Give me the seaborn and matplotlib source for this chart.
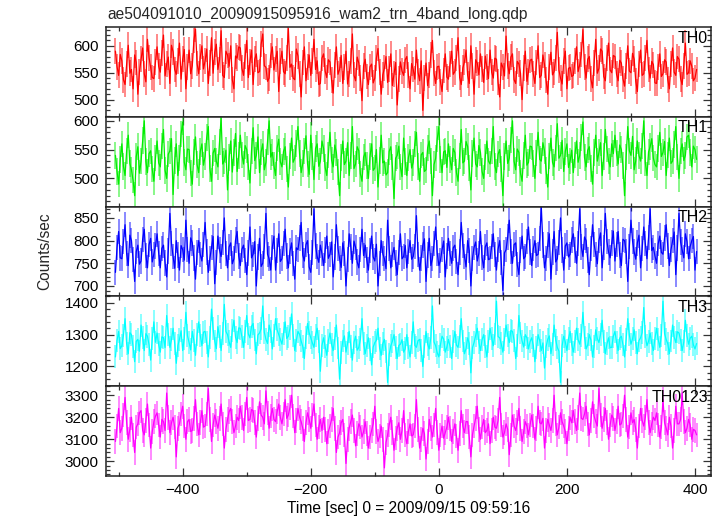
import numpy as np
import pandas as pd
import matplotlib
matplotlib.use("Agg")
import matplotlib.pyplot as plt
from matplotlib.ticker import MultipleLocator
import seaborn as sns

title = "ae504091010_20090915095916_wam2_trn_4band_long.qdp"
bands = ["TH0", "TH1", "TH2", "TH3", "TH0123"]
colors = ["#ff0000", "#00ee00", "#0000ff", "#00ffff", "#ff00ff"]

# light curve, 2.5 s bins starting at -505 s
t_start = -505
t_bin = 2.5

th0 = [590, 561, 545, 584, 572, 537, 528, 566, 601, 549, 556, 520, 583, 569, 510, 552, 575, 596, 548, 533, 612, 578, 560, 541, 539, 570,
       598, 562, 551, 587, 620, 544, 566, 579, 530, 601, 589, 556, 547, 571, 605, 538, 575, 593, 520, 560, 592, 548, 563, 610, 631, 567,
       548, 579, 600, 557, 572, 594, 530, 568, 615, 549, 588, 603, 556, 574, 628, 545, 541, 590, 583, 562, 600, 537, 520, 581, 577, 598,
       596, 558, 545, 580, 610, 541, 570, 592, 528, 575, 585, 550, 552, 603, 622, 563, 560, 534, 540, 582, 598, 555, 575, 590, 515, 571,
       590, 552, 548, 578, 632, 560, 566, 540, 537, 594, 581, 547, 505, 569, 598, 535, 560, 583, 545, 571, 612, 556, 572, 528, 530, 577,
       585, 553, 541, 574, 570, 536, 512, 565, 598, 547, 556, 582, 530, 560, 590, 529, 548, 571, 622, 545, 535, 579, 568, 540, 498, 563,
       575, 543, 528, 561, 566, 531, 540, 577, 595, 552, 510, 546, 558, 580, 532, 557, 585, 526, 548, 569, 490, 538, 570, 553, 545, 574,
       580, 545, 520, 567, 556, 538, 592, 551, 535, 572, 480, 540, 568, 526, 545, 583, 610, 549, 530, 561, 562, 533, 515, 554, 585, 542,
       538, 566, 590, 547, 552, 578, 615, 541, 528, 559, 570, 592, 545, 530, 600, 562, 510, 574, 568, 546, 585, 557, 532, 581, 560, 539,
       592, 551, 540, 577, 575, 532, 505, 568, 560, 544, 618, 563, 548, 579, 585, 537, 530, 571, 566, 549, 500, 558, 590, 534, 552, 573,
       575, 548, 530, 569, 600, 541, 545, 583, 565, 536, 510, 561, 588, 546, 552, 577, 625, 555, 540, 529, 572, 590, 520, 558, 560, 543,
       545, 571, 598, 552, 565, 584, 630, 560, 540, 575, 580, 538, 522, 568, 612, 549, 558, 594, 590, 543, 535, 577, 605, 555, 550, 582,
       580, 547, 535, 573, 568, 539, 525, 562, 600, 553, 550, 586, 575, 534, 515, 566, 592, 545, 548, 578, 610, 556, 540, 571, 565, 531,
       530, 561, 585, 543, 548, 574, 570, 537, 520, 566, 596, 551, 545, 580, 575, 539, 528, 563, 605, 547, 550, 572, 562, 535, 540, 556]

th1 = [540, 512, 490, 533, 560, 521, 505, 548, 575, 526, 515, 497, 470, 538, 555, 509, 530, 566, 600, 529, 510, 543, 548, 516, 495, 535,
       565, 527, 520, 556, 585, 514, 500, 542, 548, 569, 472, 531, 560, 505, 535, 577, 598, 528, 515, 551, 550, 509, 490, 546, 572, 524,
       510, 547, 560, 523, 538, 571, 590, 517, 495, 544, 552, 530, 520, 563, 605, 525, 530, 549, 480, 536, 565, 511, 545, 578, 512, 540,
       575, 541, 525, 557, 550, 520, 492, 548, 588, 531, 540, 572, 510, 546, 560, 515, 528, 563, 600, 537, 545, 522, 505, 553, 568, 529,
       520, 547, 555, 516, 485, 539, 570, 528, 535, 561, 590, 543, 510, 526, 548, 574, 525, 507, 575, 538, 498, 552, 560, 521, 530, 565,
       552, 519, 505, 541, 580, 532, 520, 558, 545, 511, 470, 536, 565, 524, 530, 562, 505, 540, 590, 517, 525, 555, 548, 508, 495, 537,
       545, 522, 500, 538, 560, 514, 518, 550, 485, 531, 575, 527, 530, 506, 510, 547, 555, 520, 465, 535, 540, 556, 520, 503, 570, 529,
       505, 536, 550, 518, 528, 560, 580, 521, 495, 541, 545, 512, 515, 553, 565, 530, 470, 524, 535, 568, 590, 533, 510, 546, 548, 519,
       560, 533, 515, 552, 545, 510, 495, 539, 585, 527, 530, 564, 555, 518, 480, 543, 570, 525, 520, 557, 545, 512, 500, 537, 565, 530,
       525, 548, 590, 521, 510, 542, 550, 516, 470, 538, 565, 526, 535, 567, 600, 530, 515, 551, 545, 509, 495, 540, 575, 523, 528, 556,
       555, 526, 500, 544, 580, 533, 530, 562, 548, 514, 485, 539, 570, 528, 520, 553, 595, 535, 540, 566, 512, 547, 560, 519, 530, 549,
       510, 541, 565, 528, 540, 571, 598, 536, 520, 549, 555, 517, 490, 545, 575, 530, 545, 562, 505, 538, 585, 551, 530, 520, 560, 543,
       575, 544, 525, 558, 550, 522, 470, 537, 590, 548, 540, 573, 515, 531, 565, 540, 530, 556, 600, 527, 505, 546, 555, 569, 535, 524,
       520, 552, 580, 538, 545, 564, 505, 541, 570, 526, 530, 559, 590, 537, 500, 548, 560, 531, 540, 572, 575, 545, 520, 556, 550, 533]

th2 = [730, 785, 820, 762, 760, 798, 835, 771, 745, 812, 800, 758, 710, 776, 790, 748, 755, 803, 825, 767, 740, 791, 805, 753, 770, 788,
       815, 772, 740, 783, 790, 751, 720, 777, 860, 794, 765, 739, 800, 768, 735, 789, 780, 757, 845, 781, 750, 806, 795, 762, 715, 774,
       800, 769, 755, 792, 840, 775, 730, 761, 785, 809, 705, 752, 810, 779, 765, 796, 850, 771, 740, 786, 795, 749, 760, 801, 820, 766,
       745, 781, 790, 756, 725, 773, 830, 762, 770, 798, 700, 764, 805, 743, 750, 787, 860, 770, 760, 735, 785, 810, 735, 778, 815, 754,
       760, 793, 825, 766, 740, 777, 795, 749, 715, 784, 780, 806, 840, 768, 755, 791, 800, 742, 730, 774, 870, 788, 765, 752, 790, 771,
       745, 779, 810, 761, 770, 797, 720, 764, 835, 783, 760, 741, 795, 772, 700, 758, 815, 786, 750, 799, 785, 753, 740, 780, 825, 767,
       790, 757, 735, 778, 810, 764, 755, 792, 700, 749, 800, 771, 760, 738, 845, 782, 740, 769, 785, 751, 725, 774, 815, 760, 765, 789,
       740, 776, 800, 759, 765, 787, 855, 770, 735, 762, 790, 804, 710, 768, 805, 745, 760, 793, 830, 773, 745, 756, 780, 799, 720, 766,
       805, 771, 750, 784, 790, 754, 725, 775, 840, 789, 765, 742, 800, 778, 700, 761, 785, 797, 755, 772, 820, 763, 740, 786, 795, 758,
       760, 787, 815, 769, 735, 781, 800, 752, 690, 773, 780, 808, 845, 776, 750, 791, 795, 747, 725, 779, 810, 760, 765, 798, 830, 775,
       745, 782, 800, 767, 770, 804, 875, 790, 740, 761, 790, 815, 715, 775, 820, 753, 760, 796, 850, 779, 735, 788, 795, 764, 770, 801,
       815, 779, 750, 794, 870, 786, 765, 808, 800, 757, 725, 783, 835, 792, 770, 749, 800, 817, 740, 785, 860, 798, 775, 762, 795, 821,
       755, 791, 820, 768, 745, 803, 800, 776, 710, 787, 845, 799, 775, 759, 795, 812, 740, 782, 830, 793, 760, 807, 870, 778, 785, 766,
       750, 793, 810, 774, 770, 806, 835, 788, 745, 780, 800, 819, 725, 784, 860, 797, 780, 762, 815, 798, 760, 787, 800, 809, 735, 776]

th3 = [1230, 1282, 1310, 1256, 1265, 1298, 1350, 1271, 1240, 1306, 1300, 1262, 1215, 1279, 1285, 1248, 1330, 1290, 1250, 1303, 1295, 1268, 1220, 1287, 1340, 1276,
       1305, 1268, 1245, 1293, 1290, 1259, 1360, 1301, 1260, 1284, 1320, 1273, 1210, 1266, 1285, 1312, 1250, 1289, 1370, 1296, 1275, 1252, 1310, 1281, 1235, 1299,
       1340, 1297, 1265, 1308, 1310, 1274, 1230, 1291, 1380, 1318, 1280, 1256, 1325, 1295, 1250, 1303, 1395, 1310, 1300, 1277, 1260, 1314, 1345, 1292, 1275, 1321,
       1320, 1293, 1260, 1311, 1360, 1302, 1290, 1326, 1335, 1283, 1240, 1299, 1305, 1318, 1390, 1307, 1285, 1272, 1330, 1309, 1255, 1296, 1350, 1315, 1300, 1286,
       1270, 1304, 1340, 1288, 1295, 1319, 1365, 1297, 1250, 1282, 1310, 1301, 1280, 1263, 1225, 1292, 1335, 1306, 1290, 1274, 1260, 1298, 1320, 1279, 1185, 1266,
       1290, 1262, 1235, 1281, 1305, 1269, 1250, 1287, 1330, 1258, 1160, 1244, 1280, 1296, 1245, 1273, 1310, 1264, 1220, 1276, 1295, 1251, 1260, 1285, 1350, 1271,
       1240, 1267, 1290, 1253, 1205, 1261, 1275, 1282, 1320, 1257, 1235, 1272, 1285, 1248, 1150, 1238, 1265, 1279, 1300, 1259, 1225, 1266, 1270, 1284, 1245, 1255,
       1300, 1258, 1230, 1274, 1340, 1266, 1260, 1281, 1285, 1249, 1200, 1263, 1310, 1270, 1255, 1290, 1390, 1277, 1265, 1243, 1230, 1268, 1295, 1286, 1245, 1261,
       1285, 1263, 1225, 1278, 1310, 1267, 1260, 1293, 1350, 1280, 1240, 1256, 1290, 1272, 1180, 1259, 1275, 1298, 1320, 1276, 1250, 1284, 1300, 1262, 1230, 1279,
       1320, 1289, 1265, 1302, 1405, 1294, 1290, 1271, 1245, 1286, 1330, 1297, 1275, 1313, 1310, 1282, 1225, 1267, 1360, 1305, 1280, 1261, 1300, 1290, 1255, 1278,
       1290, 1266, 1215, 1259, 1300, 1281, 1250, 1274, 1195, 1262, 1285, 1296, 1240, 1270, 1330, 1283, 1260, 1248, 1150, 1265, 1295, 1277, 1250, 1288, 1310, 1269,
       1245, 1279, 1320, 1284, 1270, 1297, 1370, 1292, 1255, 1268, 1300, 1283, 1230, 1264, 1315, 1287, 1275, 1301, 1345, 1278, 1240, 1271, 1290, 1259, 1260, 1295,
       1310, 1276, 1250, 1289, 1295, 1268, 1230, 1284, 1350, 1299, 1270, 1287, 1315, 1274, 1240, 1281, 1290, 1306, 1385, 1293, 1265, 1279, 1305, 1271, 1250, 1288,
       1320, 1286, 1260, 1298, 1405, 1303, 1285, 1271, 1240, 1280, 1330, 1292, 1275, 1309, 1305, 1283, 1250, 1277, 1345, 1296, 1270, 1289, 1295, 1268, 1255, 1272]

th0123 = [3090, 3160, 3240, 3130, 3150, 3210, 3290, 3175, 3100, 3145, 3200, 3120, 3040, 3155, 3170, 3220, 3230, 3140, 3120, 3185, 3260, 3165, 3060, 3135, 3180, 3205,
          3220, 3165, 3110, 3190, 3180, 3140, 3310, 3200, 3130, 3175, 3200, 3155, 3020, 3150, 3170, 3215, 3250, 3160, 3100, 3180, 3190, 3135, 3140, 3195, 3280, 3170,
          3120, 3175, 3230, 3155, 3160, 3215, 3330, 3190, 3090, 3165, 3210, 3180, 3150, 3195, 3260, 3170, 3060, 3145, 3190, 3225, 3240, 3180, 3130, 3160, 3200, 3185,
          3250, 3200, 3140, 3215, 3290, 3185, 3190, 3235, 3230, 3175, 3110, 3195, 3270, 3210, 3200, 3170, 3320, 3220, 3150, 3205, 3240, 3190, 3180, 3225, 3260, 3200,
          3170, 3215, 3280, 3195, 3210, 3245, 3300, 3205, 3130, 3185, 3240, 3200, 3180, 3150, 3090, 3175, 3220, 3190, 3150, 3210, 3260, 3165, 3100, 3155, 3190, 3140,
          3200, 3145, 3080, 3135, 3160, 3190, 3240, 3150, 3040, 3110, 3130, 3175, 3190, 3120, 2990, 3100, 3150, 3180, 3210, 3140, 3070, 3125, 3170, 3155, 3110, 3135,
          3180, 3125, 3060, 3110, 3140, 3170, 3250, 3135, 3090, 3115, 3160, 3100, 2970, 3085, 3120, 3165, 3200, 3130, 3050, 3105, 3150, 3175, 3100, 3140, 3230, 3120,
          3080, 3135, 3170, 3115, 3120, 3160, 3280, 3145, 3060, 3100, 3150, 3125, 3010, 3090, 3190, 3150, 3110, 3165, 3240, 3130, 3050, 3120, 3160, 3105, 3130, 3155,
          3200, 3150, 3090, 3135, 3170, 3115, 3050, 3125, 3230, 3160, 3130, 3180, 3180, 3110, 3020, 3120, 3160, 3195, 3250, 3145, 3100, 3155, 3190, 3130, 3140, 3170,
          3080, 3140, 3200, 3155, 3150, 3185, 3290, 3165, 3110, 3130, 3170, 3145, 3030, 3120, 3210, 3160, 3140, 3175, 3240, 3150, 3090, 3135, 3180, 3160, 3120, 3165,
          3210, 3160, 3100, 3150, 3250, 3175, 3170, 3195, 3060, 3140, 3190, 3165, 3140, 3185, 3300, 3170, 3120, 3155, 3220, 3180, 3160, 3135, 3080, 3150, 3200, 3175,
          3230, 3180, 3140, 3200, 3310, 3195, 3190, 3215, 3250, 3170, 3120, 3185, 3270, 3205, 3180, 3160, 3330, 3210, 3150, 3190, 3240, 3175, 3100, 3165, 3210, 3195,
          3140, 3180, 3250, 3165, 3170, 3205, 3300, 3190, 3110, 3155, 3220, 3175, 3190, 3145, 3060, 3160, 3240, 3185, 3160, 3200, 3280, 3175, 3130, 3170, 3200, 3185,
          3220, 3165, 3110, 3155, 3280, 3175, 3150, 3120, 3200, 3160, 3060, 3140, 3250, 3170, 3170, 3190, 3310, 3180, 3130, 3150, 3190, 3165, 3100, 3145, 3140, 3120]

rates = [th0, th1, th2, th3, th0123]
errors = [24, 23, 28, 36, 56]  # typical 1-sigma error per bin

ylims = [(468, 635), (451, 607), (677, 875), (1138, 1420), (2933, 3341)]
ymajor = [50, 50, 50, 100, 100]
yminor = [10, 10, 10, 20, 20]

sns.set_style("ticks")
plt.rcParams["font.family"] = ["Liberation Sans", "DejaVu Sans"]
plt.rcParams["font.size"] = 11

fig, axes = plt.subplots(5, 1, sharex=True, figsize=(7.2, 5.16), dpi=100)
fig.subplots_adjust(left=0.147, right=0.9875, top=0.9477, bottom=0.0775, hspace=0)

for i, ax in enumerate(axes):
    vals = np.array(rates[i], dtype=float)
    t = t_start + t_bin * np.arange(len(vals))
    df = pd.DataFrame({"time": t, "rate": vals})
    ax.vlines(df["time"], df["rate"] - errors[i], df["rate"] + errors[i],
              color=colors[i], alpha=0.5, lw=1.3)
    sns.lineplot(data=df, x="time", y="rate", ax=ax, color=colors[i],
                 lw=0.9, estimator=None, legend=False)
    ax.set_ylim(*ylims[i])
    ax.set_xlim(-520, 425)
    ax.set_xlabel("")
    ax.set_ylabel("")
    ax.yaxis.set_major_locator(MultipleLocator(ymajor[i]))
    ax.yaxis.set_minor_locator(MultipleLocator(yminor[i]))
    ax.xaxis.set_major_locator(MultipleLocator(200))
    ax.xaxis.set_minor_locator(MultipleLocator(100))
    ax.tick_params(which="both", direction="in", top=True, right=True,
                   color="#333333", width=0.9, labelcolor="black")
    ax.tick_params(which="major", length=6, labelsize=11, pad=5)
    ax.tick_params(which="minor", length=3)
    for sp in ax.spines.values():
        sp.set_color("#222222")
        sp.set_linewidth(1.1)
    ax.text(0.995, 0.96, bands[i], transform=ax.transAxes, ha="right", va="top",
            fontsize=11.5, color="black")

axes[-1].set_xlabel("Time [sec] 0 = 2009/09/15 09:59:16", fontsize=11.2,
                    labelpad=3, color="black")
fig.text(0.0625, 0.5126, "Counts/sec", rotation=90, ha="center", va="center", fontsize=11.2)
fig.text(0.149, 0.973, title, ha="left", va="center", fontsize=11.2)

fig.savefig("out.png", dpi=100)
